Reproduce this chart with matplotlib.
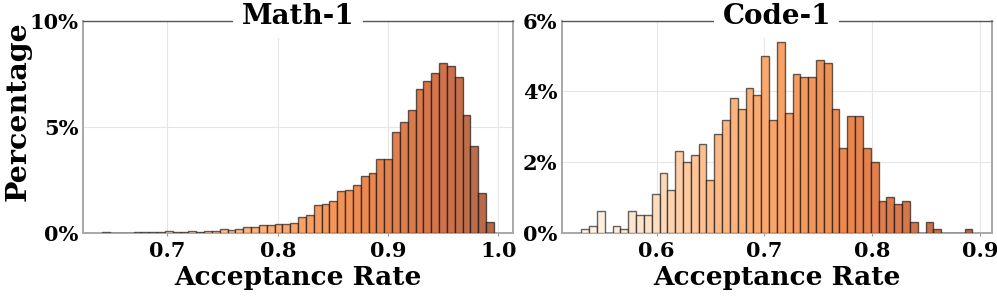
import numpy as np
import matplotlib
matplotlib.use("Agg")
import matplotlib.pyplot as plt
from matplotlib.colors import LinearSegmentedColormap
from matplotlib.ticker import FuncFormatter

# bin range of each histogram (50 bins each)
math_range = (0.641, 0.996)
code_range = (0.530, 0.893)

# percentage per bin, low -> high acceptance rate
math_pct = [0.01, 0.005, 0.005, 0.005, 0.01, 0.01,
            0.02, 0.02, 0.06, 0.02, 0.02, 0.06, 0.03, 0.09, 0.09, 0.16,
            0.11, 0.16, 0.25, 0.25, 0.35, 0.36, 0.39, 0.42, 0.46, 0.74,
            0.82, 1.31, 1.34, 1.49, 1.95, 2.01, 2.25, 2.69, 2.81, 3.49,
            3.46, 4.75, 5.20, 5.79, 6.78, 7.15, 7.53, 7.99, 7.88, 7.33,
            5.53, 4.07, 1.86, 0.49]
code_pct = [0.1, 0.2, 0.6, 0.0, 0.2, 0.1, 0.6, 0.5, 0.5, 1.1,
            1.7, 1.2, 2.3, 2.0, 2.2, 2.5, 1.5, 2.8, 3.2, 3.8,
            3.5, 4.1, 3.9, 5.0, 3.2, 5.4, 3.4, 4.5, 4.4, 4.4,
            4.9, 4.8, 3.5, 2.4, 3.3, 3.3, 2.4, 2.0, 0.9, 1.0,
            0.8, 0.9, 0.3, 0.0, 0.3, 0.1, 0.0, 0.0, 0.0, 0.1]

titles = ["Math-1", "Code-1"]
ymax = [10, 6]
yticks = [[0, 5, 10], [0, 2, 4, 6]]
xticks = [[0.7, 0.8, 0.9, 1.0], [0.6, 0.7, 0.8, 0.9]]

cmap = LinearSegmentedColormap.from_list(
    "peach", ["#fff5eb", "#fde2c8", "#fdbb88", "#f9a468",
              "#ec8a50", "#d6764b", "#b2684a"])

plt.rcParams['font.family'] = 'DejaVu Serif'
plt.rcParams['font.weight'] = 'bold'
plt.rcParams['axes.labelweight'] = 'bold'

fig = plt.figure(figsize=(9.97, 2.97), dpi=100)
axes = [fig.add_axes([0.083, 0.2165, 0.432, 0.7138]),
        fig.add_axes([0.5634, 0.2165, 0.4316, 0.7138])]

for ax, rng, pct, title, ym, yt, xt in zip(axes, [math_range, code_range],
                                           [math_pct, code_pct], titles,
                                           ymax, yticks, xticks):
    edges = np.linspace(rng[0], rng[1], len(pct) + 1)
    centers = (edges[:-1] + edges[1:]) / 2
    colors = cmap((centers - rng[0]) / (rng[1] - rng[0]))
    ax.bar(edges[:-1], pct, width=np.diff(edges), align='edge',
           color=colors, edgecolor=(0, 0, 0, 0.6), linewidth=1.0, zorder=3)
    ax.set_ylim(0, ym)
    ax.set_yticks(yt)
    ax.set_xticks(xt)
    ax.yaxis.set_major_formatter(FuncFormatter(lambda v, p: f"{v:.0f}%"))
    ax.xaxis.set_major_formatter(FuncFormatter(lambda v, p: f"{v:.1f}"))
    ax.grid(color='#e6e6e6', linewidth=0.8, zorder=0)
    ax.tick_params(axis='both', labelsize=15, length=2, width=0.8,
                   color='#999999', pad=4)
    ax.tick_params(axis='y', length=0, pad=3)
    for s in ['left', 'bottom', 'right']:
        ax.spines[s].set_color('#a8a8a8')
        ax.spines[s].set_linewidth(1.4)
    ax.spines['top'].set_color('#555555')
    ax.spines['top'].set_linewidth(1.0)
    ax.set_xlabel("Acceptance Rate", fontsize=19, fontweight='bold',
                  labelpad=3)
    ax.text(0.5, 0.985, title, transform=ax.transAxes, ha='center',
            va='baseline', fontsize=20, fontweight='bold', zorder=5,
            bbox=dict(boxstyle='square,pad=0.3', facecolor='white',
                      edgecolor='none'))

axes[0].set_ylabel("Percentage", fontsize=20.5, fontweight='bold')
axes[0].yaxis.set_label_coords(-0.118, 0.575)

fig.savefig("out.png", dpi=100)
